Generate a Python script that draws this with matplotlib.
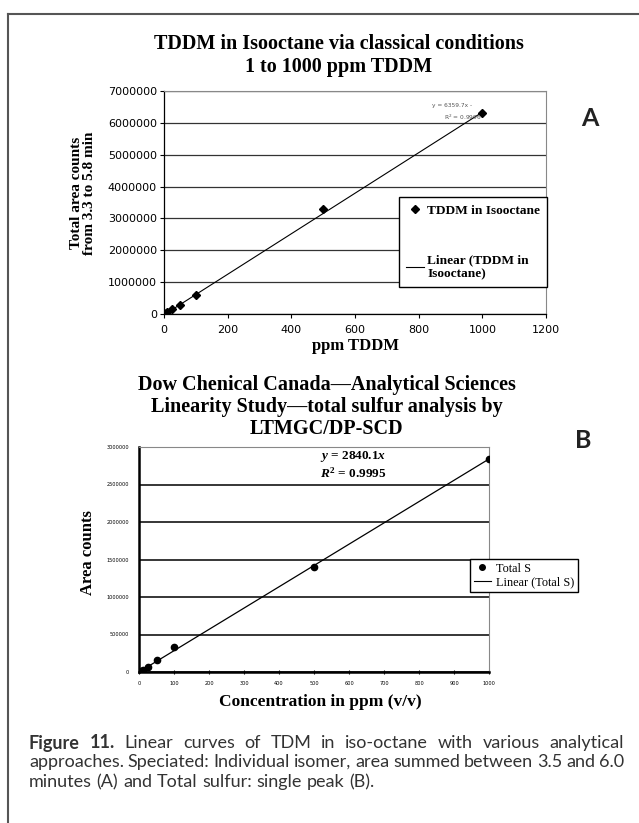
import matplotlib
matplotlib.use("Agg")
import matplotlib.pyplot as plt
from matplotlib.lines import Line2D
import numpy as np

W, H = 639, 823
SERIF = "Liberation Serif"
CAP_FONT = ["Lato", "DejaVu Sans"]

plt.rcParams["mathtext.fontset"] = "custom"
plt.rcParams["mathtext.rm"] = "Liberation Serif:bold"
plt.rcParams["mathtext.it"] = "Liberation Serif:italic:bold"
plt.rcParams["mathtext.bf"] = "Liberation Serif:bold"

# chart A - speciated, summed area
conc_a = [1, 5, 10, 25, 50, 100, 500, 1000]
area_a = [6000, 30000, 60000, 150000, 280000, 590000, 3290000, 6300000]
slope_a, icpt_a = 6359.7, -25000
xticks_a = [0, 200, 400, 600, 800, 1000, 1200]
yticks_a = [0, 1000000, 2000000, 3000000, 4000000, 5000000, 6000000, 7000000]

# chart B - total sulfur
conc_b = [1, 5, 10, 25, 50, 100, 500, 1000]
area_b = [3000, 15000, 30000, 65000, 160000, 335000, 1405000, 2836000]
slope_b = 2840.1
xticks_b = [0, 100, 200, 300, 400, 500, 600, 700, 800, 900, 1000]
yticks_b = [0, 500000, 1000000, 1500000, 2000000, 2500000, 3000000]

caption = [
	[("Figure", "bold"), ("11.", "bold"), ("Linear", "normal"), ("curves", "normal"), ("of", "normal"),
	 ("TDM", "normal"), ("in", "normal"), ("iso-octane", "normal"), ("with", "normal"),
	 ("various", "normal"), ("analytical", "normal")],
	[(w, "normal") for w in "approaches. Speciated: Individual isomer, area summed between 3.5 and 6.0".split()],
	[(w, "normal") for w in "minutes (A) and Total sulfur: single peak (B).".split()],
]


def px_axes(fig, left, top, right, bottom):
	return fig.add_axes([left / W, 1 - bottom / H, (right - left) / W, (bottom - top) / H])


def fx(x):
	return x / W


def fy(y):
	return 1 - y / H


def style_axes(ax, thick):
	ax.set_facecolor("white")
	for side in ["left", "bottom"]:
		ax.spines[side].set_color("black")
		ax.spines[side].set_linewidth(thick)
	for side in ["top", "right"]:
		ax.spines[side].set_color("#888888")
		ax.spines[side].set_linewidth(0.8)
	ax.set_axisbelow(True)


def draw_chart_a(fig):
	ax = px_axes(fig, 164, 91, 546, 314)
	style_axes(ax, 0.9)
	xs = np.array([min(conc_a), max(conc_a)])
	ax.plot(xs, slope_a * xs + icpt_a, color="black", lw=0.8, zorder=2)
	ax.plot(conc_a, area_a, ls="none", marker="D", ms=4.2, color="black", zorder=3)
	ax.set_xlim(0, 1200)
	ax.set_ylim(0, 7000000)
	ax.set_xticks(xticks_a)
	ax.set_xticklabels([str(v) for v in xticks_a])
	ax.set_yticks(yticks_a)
	ax.set_yticklabels([str(v) for v in yticks_a])
	ax.tick_params(direction="out", length=3, width=0.8, labelsize=8, pad=2)
	ax.tick_params(axis="x", pad=5)
	ax.yaxis.grid(True, color="#333333", lw=0.9)

	fig.text(fx(452), fy(105), "y = 6359.7x -", fontsize=4.2, color="#555555", ha="center", va="center")
	fig.text(fx(463), fy(117), "R$^2$ = 0.9996", fontsize=4.2, color="#555555", ha="center", va="center",
			 math_fontfamily="dejavusans")

	handles = [Line2D([], [], marker="D", ls="none", color="black", ms=4.2),
			   Line2D([], [], color="black", lw=0.8)]
	leg = ax.legend(handles, ["TDDM in Isooctane", "Linear (TDDM in\nIsooctane)"],
					loc="upper left", bbox_to_anchor=(fx(399), fy(197)), bbox_transform=fig.transFigure,
					fancybox=False, framealpha=1, edgecolor="black", borderaxespad=0,
					prop=dict(family=SERIF, weight="bold", size=9.6),
					labelspacing=2.8, handlelength=1.3, handletextpad=0.25, borderpad=0.55)
	leg.get_frame().set_linewidth(1.0)

	fig.text(fx(339), fy(44), "TDDM in Isooctane via classical conditions", family=SERIF,
			 weight="bold", fontsize=14.5, ha="center", va="center")
	fig.text(fx(339), fy(67), "1 to 1000 ppm TDDM", family=SERIF,
			 weight="bold", fontsize=14.5, ha="center", va="center")
	fig.text(fx(83), fy(193), "Total area counts\nfrom 3.3 to 5.8 min", family=SERIF,
			 weight="bold", fontsize=11, rotation=90, ha="center", va="center", linespacing=1.05)
	fig.text(fx(355), fy(346), "ppm TDDM", family=SERIF, weight="bold", fontsize=12,
			 ha="center", va="center")
	fig.text(fx(590), fy(119), "A", family=CAP_FONT, weight="bold", fontsize=18,
			 ha="center", va="center", color="#222222")


def draw_chart_b(fig):
	ax = px_axes(fig, 139, 447, 489, 672)
	style_axes(ax, 1.8)
	xs = np.array([0, max(conc_b)])
	ax.plot(xs, slope_b * xs, color="black", lw=0.9, zorder=2)
	ax.plot(conc_b, area_b, ls="none", marker="o", ms=4.5, color="black", zorder=3)
	ax.set_xlim(0, 1000)
	ax.set_ylim(0, 3000000)
	ax.set_xticks(xticks_b)
	ax.set_xticklabels([str(v) for v in xticks_b])
	ax.set_yticks(yticks_b)
	ax.set_yticklabels([str(v) for v in yticks_b])
	ax.tick_params(axis="y", length=0, labelsize=3.6, pad=7)
	ax.tick_params(axis="x", direction="inout", length=3, width=0.8, labelsize=3.6, pad=5)
	ax.yaxis.grid(True, color="black", lw=1.1)

	fig.text(fx(353), fy(457), r"$\mathit{y}$ = 2840.1$\mathit{x}$", family=SERIF, weight="bold",
			 fontsize=9.5, ha="center", va="center")
	fig.text(fx(353), fy(473), r"$\mathit{R}^2$ = 0.9995", family=SERIF, weight="bold",
			 fontsize=9.5, ha="center", va="center")

	handles = [Line2D([], [], marker="o", ls="none", color="black", ms=4),
			   Line2D([], [], color="black", lw=0.8)]
	leg = ax.legend(handles, ["Total S", "Linear (Total S)"],
					loc="upper left", bbox_to_anchor=(fx(470), fy(559)), bbox_transform=fig.transFigure,
					fancybox=False, framealpha=1, edgecolor="black", borderaxespad=0,
					prop=dict(family=SERIF, size=8.8),
					labelspacing=0.1, handlelength=1.4, handletextpad=0.4, borderpad=0.3)
	leg.get_frame().set_linewidth(1.0)

	fig.text(fx(327), fy(385), "Dow Chenical Canada\u2014Analytical Sciences", family=SERIF,
			 weight="bold", fontsize=14.5, ha="center", va="center")
	fig.text(fx(327), fy(407), "Linearity Study\u2014total sulfur analysis by", family=SERIF,
			 weight="bold", fontsize=14.5, ha="center", va="center")
	fig.text(fx(327), fy(429), "LTMGC/DP-SCD", family=SERIF,
			 weight="bold", fontsize=14.5, ha="center", va="center")
	fig.text(fx(88), fy(553), "Area counts", family=SERIF, weight="bold", fontsize=12,
			 rotation=90, ha="center", va="center")
	fig.text(fx(320), fy(702), "Concentration in ppm (v/v)", family=SERIF, weight="bold",
			 fontsize=12.5, ha="center", va="center")
	fig.text(fx(583), fy(441), "B", family=CAP_FONT, weight="bold", fontsize=18,
			 ha="center", va="center", color="#222222")


def draw_caption(fig):
	renderer = fig.canvas.get_renderer()
	x0, x1 = 29, 624
	ys = [743, 762, 782]
	for i, (parts, y) in enumerate(zip(caption, ys)):
		texts = [fig.text(0, fy(y), w, family=CAP_FONT, weight=wt, fontsize=13,
						  color="#333333", va="center") for w, wt in parts]
		widths = [t.get_window_extent(renderer).width for t in texts]
		if i < len(caption) - 1:
			gap = (x1 - x0 - sum(widths)) / (len(parts) - 1)
		else:
			gap = 13 * 0.26 * 100 / 72
		x = x0
		for t, w in zip(texts, widths):
			t.set_x(fx(x))
			x += w + gap


def draw_frame(fig):
	fig.add_artist(Line2D([fx(8), 1.0], [fy(14), fy(14)], color="#555555", lw=1.5))
	fig.add_artist(Line2D([fx(8), fx(8)], [fy(14), 0.0], color="#555555", lw=1.5))


def main():
	fig = plt.figure(figsize=(W / 100, H / 100), dpi=100)
	fig.patch.set_facecolor("white")
	draw_frame(fig)
	draw_chart_a(fig)
	draw_chart_b(fig)
	draw_caption(fig)
	fig.savefig("out.png", dpi=100)


if __name__ == "__main__":
	main()
